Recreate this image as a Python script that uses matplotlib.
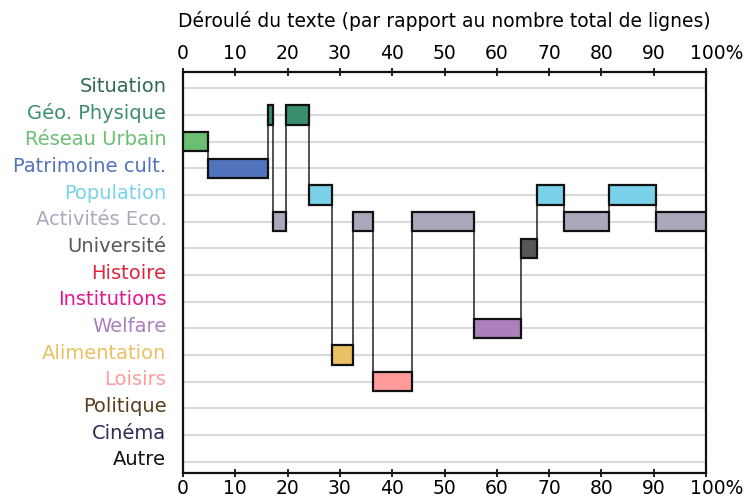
import matplotlib.pyplot as plt
from matplotlib.transforms import ScaledTranslation

categories = [
    "Situation", "Géo. Physique", "Réseau Urbain", "Patrimoine cult.",
    "Population", "Activités Eco.", "Université", "Histoire", "Institutions",
    "Welfare", "Alimentation", "Loisirs", "Politique", "Cinéma", "Autre",
]
category_colors = [
    "#2f6b55", "#3a8f6e", "#6abf73", "#5274bd", "#79d2ea", "#aca8bc",
    "#575757", "#e0263c", "#e3168f", "#ac7fbd", "#e9c163", "#ff9b9b",
    "#5a3f1e", "#2f2a55", "#111111",
]

# text segments in reading order: start (% of lines) and theme
seg_start = [0, 4.8, 16.2, 17.3, 19.7, 24.0, 28.5, 32.5, 36.4, 43.8,
             55.6, 64.7, 67.6, 72.9, 81.5, 90.5]
seg_end = seg_start[1:] + [100]
seg_theme = [
    "Réseau Urbain", "Patrimoine cult.", "Géo. Physique", "Activités Eco.",
    "Géo. Physique", "Population", "Alimentation", "Activités Eco.", "Loisirs",
    "Activités Eco.", "Welfare", "Université", "Population", "Activités Eco.",
    "Population", "Activités Eco.",
]

xticks = [0, 10, 20, 30, 40, 50, 60, 70, 80, 90, 100]
xtick_labels = ["0", "10", "20", "30", "40", "50", "60", "70", "80", "90", "100%"]

fig = plt.figure(figsize=(7.45, 4.97), dpi=100)
ax = fig.add_axes([0.2456, 0.0483, 0.7021, 0.8078])

rows = [categories.index(t) for t in seg_theme]
colors = [category_colors[r] for r in rows]

# path through the text
ax.step(seg_start + [100], rows + [rows[-1]], where="post", color="#222222",
        lw=1.1, zorder=2)

ax.barh(rows, [e - s for s, e in zip(seg_start, seg_end)], left=seg_start,
        height=0.72, color=colors, edgecolor="#111111", linewidth=1.6, zorder=3)

ax.set_xlim(0, 100)
ax.set_ylim(14.42, -0.63)
ax.set_yticks(range(len(categories)))
ax.set_yticklabels(categories, fontsize=14)
up = ScaledTranslation(0, 4 / 100, fig.dpi_scale_trans)
for lab, c in zip(ax.get_yticklabels(), category_colors):
    lab.set_color(c)
ax.tick_params(axis="y", length=0, pad=12)

ax.set_xticks(xticks)
ax.set_xticklabels(xtick_labels, fontsize=13.5)
ax.tick_params(axis="x", top=True, labeltop=True, direction="inout",
               length=6, width=1.2)
ax.tick_params(axis="x", which="major", pad=1)
ax.xaxis.set_label_position("top")
ax.set_xlabel("Déroulé du texte (par rapport au nombre total de lignes)",
              fontsize=13.5, labelpad=12)

ax.grid(axis="y", color="#d9d9d9", lw=1.5, zorder=0)
ax.set_axisbelow(True)
for sp in ax.spines.values():
    sp.set_linewidth(1.6)
    sp.set_color("#111111")

# labels sit slightly above their row line
for tick in ax.yaxis.get_major_ticks():
    tick.label1.set_transform(tick.label1.get_transform() + up)

# keep the "100" centred on its tick, "%" hanging right
shift = ScaledTranslation(8 / 72, 0, fig.dpi_scale_trans)
tick = ax.xaxis.get_major_ticks()[-1]
tick.label1.set_transform(tick.label1.get_transform() + shift)
tick.label2.set_transform(tick.label2.get_transform() + shift)
for tick in ax.xaxis.get_major_ticks():
    tick.label2.set_transform(tick.label2.get_transform()
                              + ScaledTranslation(0, 3 / 100, fig.dpi_scale_trans))

fig.savefig("out.png", dpi=100)
